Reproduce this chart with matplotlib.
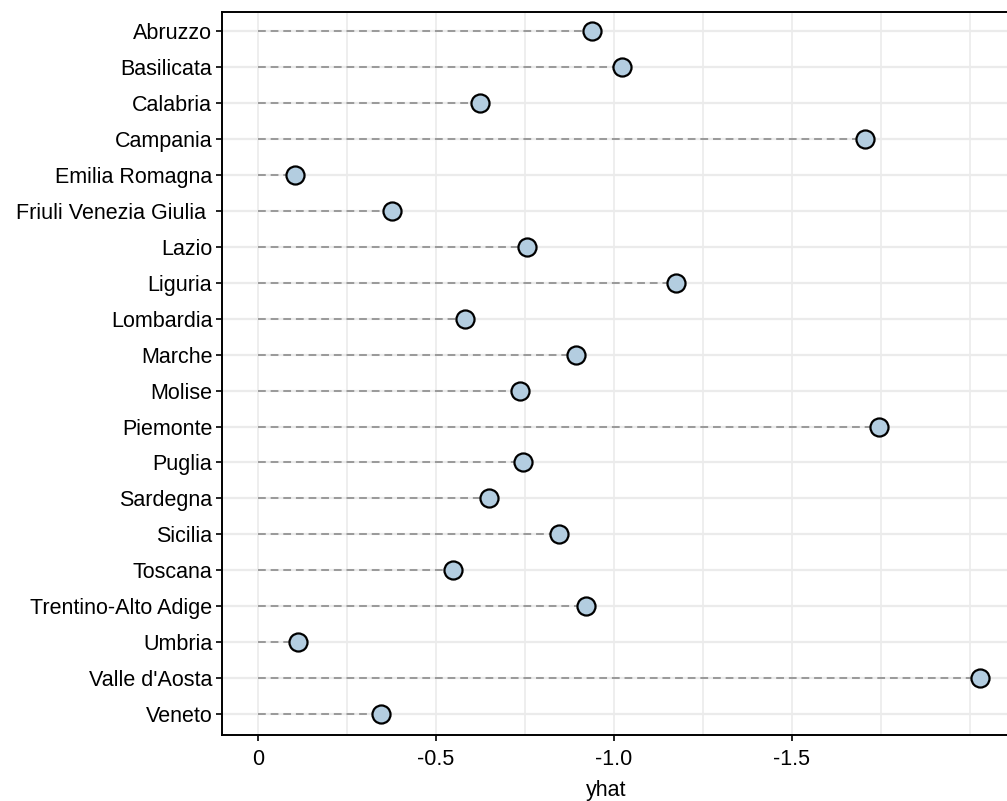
import numpy as np
import matplotlib.pyplot as plt

plt.rcParams['font.family'] = ['Liberation Sans', 'DejaVu Sans']

# regions and predicted values
regions = ["Abruzzo", "Basilicata", "Calabria", "Campania", "Emilia Romagna",
           "Friuli Venezia Giulia ", "Lazio", "Liguria", "Lombardia", "Marche",
           "Molise", "Piemonte", "Puglia", "Sardegna", "Sicilia", "Toscana",
           "Trentino-Alto Adige", "Umbria", "Valle d'Aosta", "Veneto"]
yhat = [-0.938, -1.022, -0.624, -1.705, -0.104, -0.376, -0.756, -1.174,
        -0.581, -0.893, -0.736, -1.744, -0.744, -0.649, -0.846, -0.548,
        -0.921, -0.112, -2.028, -0.346]
xticks = [0, -0.5, -1.0, -1.5]
xticklabels = ["0", "-0.5", "-1.0", "-1.5"]

fig = plt.figure(figsize=(10.07, 8.01), dpi=100)
ax = fig.add_axes([222/1007, 66/801, (1007-222)/1007, (735-12)/801])

ypos = np.arange(len(regions))

#GRID
for x in [-0.25, -0.75, -1.25, -1.75, 0, -0.5, -1.0, -1.5, -2.0]:
    ax.axvline(x, color='#ebebeb', lw=1.2, zorder=0)
for y in ypos:
    ax.axhline(y, color='#ebebeb', lw=1.6, zorder=0)

#LOLLIPOPS
ax.hlines(ypos, 0, yhat, colors='#999999', linestyles=(0, (4, 2.5)), lw=1.4, zorder=2)
ax.plot(yhat, ypos, 'o', ms=13, mfc='#b3cde0', mec='black', mew=1.6, zorder=3)

ax.set_xlim(0.101, -2.104)
ax.set_ylim(len(regions) - 1 + 0.58, -0.53)
ax.set_yticks(ypos)
ax.set_yticklabels(regions)
ax.set_xticks(xticks)
ax.set_xticklabels(xticklabels)
ax.tick_params(axis='both', labelsize=15.5, length=4, width=1.2, colors='black')
ax.tick_params(axis='x', pad=6)
ax.tick_params(axis='y', pad=3)
ax.set_xlabel("yhat", fontsize=15.5)
ax.xaxis.set_label_coords(0.49, -0.062)

for s in ax.spines.values():
    s.set_linewidth(1.4)
    s.set_color('black')
ax.spines['right'].set_visible(False)

fig.savefig("out.png", dpi=100)
